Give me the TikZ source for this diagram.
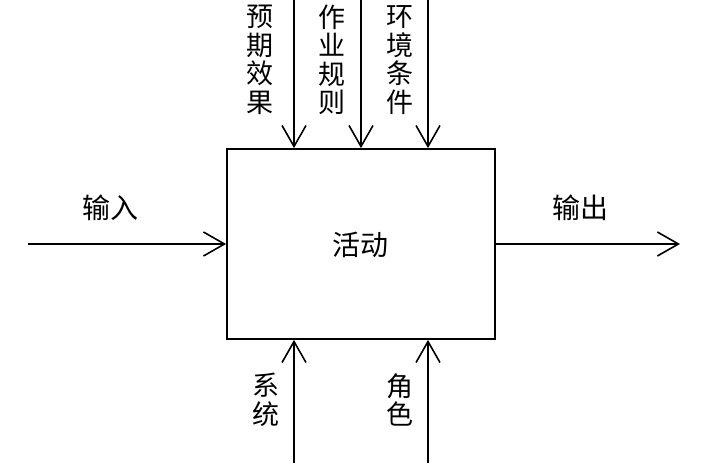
\documentclass[tikz,border=0pt]{standalone}
\usepackage{fontspec}
\setmainfont{Noto Sans CJK SC}
\usetikzlibrary{arrows.meta}
\begin{document}
\begin{tikzpicture}[x=1pt,y=-1pt,
  arr/.style={line width=1.6pt,-{Straight Barb[length=21pt,width=24pt,line width=1.6pt]}},
  lbl/.style={inner sep=0pt,font=\fontsize{27}{28.5}\selectfont,align=center},
  hlbl/.style={inner sep=0pt,font=\fontsize{28}{30}\selectfont},
  boxst/.style={draw,line width=1.8pt,inner sep=0pt}]
\useasboundingbox (0,0) rectangle (709,463);
\node[boxst,minimum width=268pt,minimum height=190pt] (act) at (361,244) {};
\node[hlbl] (actl) at (360,245) {活动};
% input/output
\coordinate (in0) at (28,244);
\coordinate (out1) at (680,244);
\draw[arr] (in0) -- (act.west);
\draw[arr] (act.east) -- (out1);
\node[hlbl] (inl) at (110,208) {输入};
\node[hlbl] (outl) at (580,208) {输出};
% top controls
\coordinate (t1) at (294,0);
\coordinate (t2) at (361,0);
\coordinate (t3) at (428,0);
\draw[arr] (t1) -- (t1 |- act.north);
\draw[arr] (t2) -- (t2 |- act.north);
\draw[arr] (t3) -- (t3 |- act.north);
\node[lbl] (l1) at (260,60) {预\\期\\效\\果};
\node[lbl] (l2) at (332,60) {作\\业\\规\\则};
\node[lbl] (l3) at (400,60) {环\\境\\条\\件};
% bottom mechanisms
\coordinate (b1) at (294,463);
\coordinate (b2) at (428,463);
\draw[arr] (b1) -- (b1 |- act.south);
\draw[arr] (b2) -- (b2 |- act.south);
\node[lbl] (l4) at (266,400) {系\\统};
\node[lbl] (l5) at (400,400) {角\\色};
\end{tikzpicture}
\end{document}
